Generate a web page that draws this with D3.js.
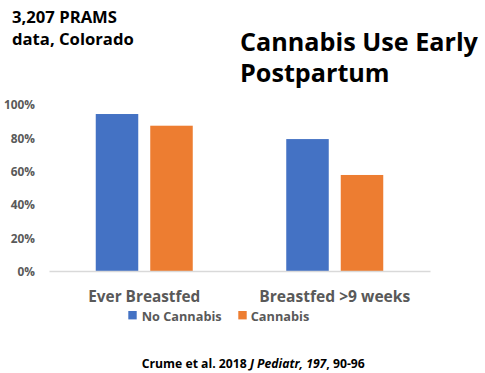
<!DOCTYPE html>
<html>
<head>
<meta charset="utf-8">
<script src="https://cdn.jsdelivr.net/npm/d3@7"></script>
<style>
  html, body { margin: 0; padding: 0; background: #fff; }
  svg { display: block; }
  text { font-family: "Open Sans", Lato, "Liberation Sans", sans-serif; font-weight: bold; }
</style>
</head>
<body>
<svg id="chart" width="485" height="373"></svg>
<script>
// Breastfeeding outcomes by postpartum cannabis use (PRAMS, Colorado)
const categories = ["Ever Breastfed", "Breastfed >9 weeks"];
const series = ["No Cannabis", "Cannabis"];
const noCannabis = [94, 79];
const cannabis = [87, 57.5];
const yTicks = [0, 20, 40, 60, 80, 100];
const colors = ["#4472C4", "#ED7D31"];

const values = [noCannabis, cannabis];
const svg = d3.select("#chart");

// Scale a text element's font size so it spans a given width
function fit(sel, width) {
  const node = sel.node();
  const fs = parseFloat(sel.attr("font-size"));
  const w = node.getComputedTextLength();
  sel.attr("font-size", (fs * width / w).toFixed(2));
  return sel;
}

const x0 = d3.scaleBand().domain(categories).range([49, 430]).paddingInner(0).paddingOuter(0);
const groupW = 97;
const x1 = d3.scaleBand().domain(series).range([-groupW / 2, groupW / 2]).paddingInner(0.22).paddingOuter(0);
const y = d3.scaleLinear().domain([0, 100]).range([271, 104]);

// y-axis labels (no axis line)
const yAxis = d3.axisLeft(y).tickValues(yTicks).tickFormat(d => d + "%").tickSize(0).tickPadding(0);
const yg = svg.append("g").attr("transform", "translate(35,0)").call(yAxis);
yg.select(".domain").remove();
const tickText = yg.selectAll("text")
  .attr("font-family", null)
  .attr("fill", "#595959")
  .attr("font-size", 11)
  .attr("dy", "0.4em");
// size tick labels from the widest one ("100%")
const widestTick = tickText.filter(d => d === 100);
fit(widestTick, 31);
tickText.attr("font-size", widestTick.attr("font-size"));

// bars
categories.forEach((cat, ci) => {
  series.forEach((s, si) => {
    const v = values[si][ci];
    svg.append("rect")
      .attr("x", x0(cat) + x0.bandwidth() / 2 + x1(s))
      .attr("y", y(v))
      .attr("width", x1.bandwidth())
      .attr("height", y(0) - y(v))
      .attr("fill", colors[si]);
  });
});

// x-axis baseline and category labels
const xAxis = d3.axisBottom(x0).tickSize(0).tickPadding(0);
const xg = svg.append("g").attr("transform", `translate(0,${y(0)})`).call(xAxis);
xg.select(".domain").attr("stroke", "#D9D9D9").attr("stroke-width", 1.3);
const catWidths = [112, 151];
xg.selectAll("text")
  .attr("font-family", null)
  .attr("fill", "#595959")
  .attr("font-size", 15)
  .attr("dy", null)
  .attr("y", 31)
  .each(function(d, i) { fit(d3.select(this), catWidths[i]); });

// legend
const legend = [
  { label: series[0], color: colors[0], sx: 128.3, tx: 141.7, w: 80 },
  { label: series[1], color: colors[1], sx: 238.3, tx: 250.7, w: 58.6 }
];
legend.forEach(l => {
  svg.append("rect").attr("x", l.sx).attr("y", 311).attr("width", 8.4).attr("height", 8.4).attr("fill", l.color);
  const t = svg.append("text").attr("x", l.tx).attr("y", 320.5).attr("fill", "#595959").attr("font-size", 13).text(l.label);
  fit(t, l.w);
});

// headline
const h1 = svg.append("text").attr("x", 240).attr("y", 50.5).attr("font-size", 26).attr("fill", "#000").text("Cannabis Use Early");
fit(h1, 238);
const hs = h1.attr("font-size");
svg.append("text").attr("x", 240).attr("y", 81.5).attr("font-size", hs).attr("fill", "#000").text("Postpartum");

// sample note
const n1 = svg.append("text").attr("x", 12).attr("y", 22.5).attr("font-size", 15).attr("fill", "#000").text("3,207 PRAMS");
fit(n1, 105);
svg.append("text").attr("x", 12).attr("y", 45).attr("font-size", n1.attr("font-size")).attr("fill", "#000").text("data, Colorado");

// citation
const cite = svg.append("text").attr("x", 253.3).attr("y", 367.5).attr("text-anchor", "middle").attr("font-size", 10.5).attr("fill", "#000");
cite.append("tspan").text("Crume et al. 2018 ");
cite.append("tspan").attr("font-style", "italic").text("J Pediatr, 197");
cite.append("tspan").text(", 90-96");
fit(cite, 223);
</script>
</body>
</html>
